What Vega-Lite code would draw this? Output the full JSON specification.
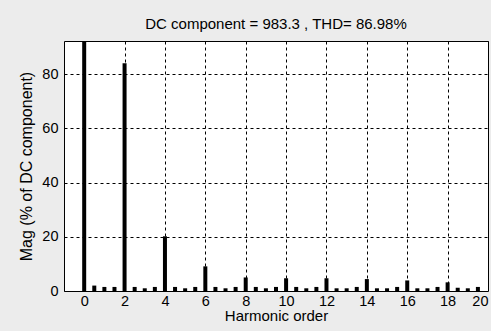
{
  "$schema": "https://vega.github.io/schema/vega-lite/v6.json",
  "width": 424,
  "height": 250,
  "autosize": {"type": "none"},
  "padding": {"left": 64, "top": 41, "right": 3, "bottom": 40},
  "background": "#ececec",
  "title": {
    "text": "DC component = 983.3 , THD= 86.98%",
    "font": "Liberation Sans",
    "fontSize": 15,
    "fontWeight": "normal",
    "color": "#000000",
    "offset": 9
  },
  "config": {
    "view": {"fill": "#ffffff", "stroke": "#000000", "strokeWidth": 1},
    "axis": {
      "labelFont": "Liberation Sans",
      "labelFontSize": 14.5,
      "labelColor": "#000000",
      "labelOverlap": false,
      "titleFont": "Liberation Sans",
      "titleFontSize": 15,
      "titleFontWeight": "normal",
      "titleColor": "#000000",
      "gridColor": "#000000",
      "gridOpacity": 1,
      "gridDash": [3, 3],
      "gridWidth": 1,
      "domain": false,
      "ticks": false
    }
  },
  "data": {
    "values": [
      {"order": 0, "mag": 100},
      {"order": 0.5, "mag": 2.0},
      {"order": 1, "mag": 1.5},
      {"order": 1.5, "mag": 1.5},
      {"order": 2, "mag": 84.1},
      {"order": 2.5, "mag": 1.5},
      {"order": 3, "mag": 1.0},
      {"order": 3.5, "mag": 1.5},
      {"order": 4, "mag": 20.2},
      {"order": 4.5, "mag": 1.5},
      {"order": 5, "mag": 1.0},
      {"order": 5.5, "mag": 1.5},
      {"order": 6, "mag": 9.1},
      {"order": 6.5, "mag": 1.5},
      {"order": 7, "mag": 1.0},
      {"order": 7.5, "mag": 1.5},
      {"order": 8, "mag": 5.0},
      {"order": 8.5, "mag": 1.5},
      {"order": 9, "mag": 1.0},
      {"order": 9.5, "mag": 1.5},
      {"order": 10, "mag": 4.7},
      {"order": 10.5, "mag": 1.5},
      {"order": 11, "mag": 1.0},
      {"order": 11.5, "mag": 1.5},
      {"order": 12, "mag": 4.7},
      {"order": 12.5, "mag": 1.0},
      {"order": 13, "mag": 1.0},
      {"order": 13.5, "mag": 1.5},
      {"order": 14, "mag": 4.4},
      {"order": 14.5, "mag": 1.0},
      {"order": 15, "mag": 1.0},
      {"order": 15.5, "mag": 1.5},
      {"order": 16, "mag": 3.9},
      {"order": 16.5, "mag": 1.0},
      {"order": 17, "mag": 1.0},
      {"order": 17.5, "mag": 1.5},
      {"order": 18, "mag": 3.2},
      {"order": 18.5, "mag": 1.2},
      {"order": 19, "mag": 1.0},
      {"order": 19.5, "mag": 1.5}
    ]
  },
  "mark": {"type": "bar", "orient": "vertical", "size": 4, "color": "#000000", "clip": true},
  "encoding": {
    "x": {
      "field": "order",
      "type": "quantitative",
      "scale": {"domain": [-1, 20], "nice": false, "zero": false, "padding": 0},
      "axis": {
        "title": "Harmonic order",
        "values": [0, 2, 4, 6, 8, 10, 12, 14, 16, 18, 20],
        "labelFlush": true,
        "labelPadding": 3,
        "titlePadding": 1
      }
    },
    "y": {
      "field": "mag",
      "type": "quantitative",
      "scale": {"domain": [0, 92.3], "nice": false},
      "axis": {
        "title": "Mag (% of DC component)",
        "titleFontSize": 16,
        "values": [0, 20, 40, 60, 80],
        "labelFlush": false,
        "labelPadding": 6,
        "titlePadding": 7
      }
    }
  }
}
